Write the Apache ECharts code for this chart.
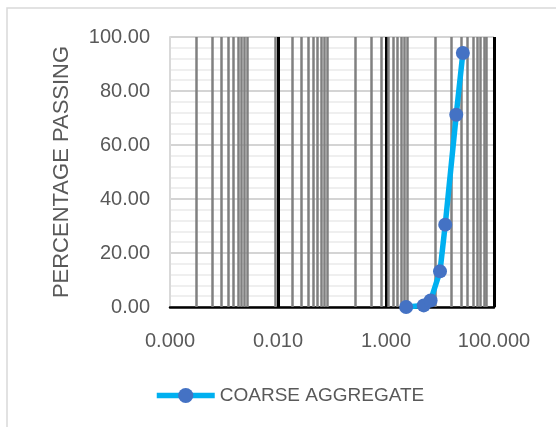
<!DOCTYPE html>
<html>
<head>
<meta charset="utf-8">
<script src="https://cdn.jsdelivr.net/npm/echarts@6/dist/echarts.min.js"></script>
<style>
  html, body { margin: 0; padding: 0; background: #ffffff; }
  #chart { width: 556px; height: 427px; }
</style>
</head>
<body>
<div id="chart"></div>
<script>
// Sieve size (mm) and percentage passing
const sieveSizes = [2.36, 5, 6.7, 10, 12.5, 20, 26.5];
const percentPassing = [0.0, 0.6, 2.4, 13.2, 30.5, 71.2, 94.1];
const seriesName = 'COARSE AGGREGATE';
const yTicks = [0, 20, 40, 60, 80, 100];
const xTickLabels = ['0.000', '0.010', '1.000', '100.000'];
// minor vertical gridline values (as drawn in the source chart)
const minorGridValues = [
  0.0003, 0.0006, 0.0009, 0.0012, 0.0015, 0.0018, 0.0021, 0.0024, 0.0027,
  0.009, 0.018, 0.027, 0.036, 0.045, 0.054, 0.063, 0.072, 0.081,
  0.27, 0.54, 0.81, 1.08, 1.35, 1.62, 1.89, 2.16, 2.43,
  8.1, 16.2, 24.3, 32.4, 40.5, 48.6, 56.7, 64.8, 72.9
];

const FONT = 'Liberation Sans';
const TXT = '#595959';

const chart = echarts.init(document.getElementById('chart'), null, { renderer: 'canvas' });

chart.setOption({
  animation: false,
  backgroundColor: '#ffffff',
  textStyle: { fontFamily: FONT },
  graphic: [{
    type: 'rect',
    silent: true,
    shape: { x: 7, y: 8, width: 600, height: 500 },
    style: { fill: 'none', stroke: '#d9d9d9', lineWidth: 1.5 },
    z: -10
  }],
  grid: { left: 170, right: 62, top: 37, bottom: 120, containLabel: false },
  legend: {
    data: [seriesName],
    left: 149,
    top: 381,
    itemWidth: 58,
    itemHeight: 19,
    itemStyle: { color: '#4472C4' },
    lineStyle: { color: '#00B0F0', width: 5.5 },
    textStyle: { fontFamily: FONT, fontSize: 19, color: TXT }
  },
  xAxis: {
    type: 'log',
    logBase: 100,
    min: 0.0001,
    max: 100,
    splitNumber: 3,
    axisLine: { show: true, onZero: false, lineStyle: { color: '#000000', width: 2.5 } },
    axisTick: { show: false },
    axisLabel: {
      margin: 24,
      fontFamily: FONT,
      fontSize: 20,
      color: TXT,
      formatter: function (v) {
        const s = Number(v).toFixed(3);
        return xTickLabels.indexOf(s) >= 0 ? s : '';
      }
    },
    splitLine: {
      show: true,
      showMinLine: false,
      lineStyle: { color: '#000000', width: 3 }
    }
  },
  yAxis: {
    type: 'value',
    min: yTicks[0],
    max: yTicks[yTicks.length - 1],
    interval: 20,
    name: 'PERCENTAGE PASSING',
    nameLocation: 'middle',
    nameRotate: 90,
    nameGap: 97,
    nameTextStyle: { fontFamily: FONT, fontSize: 22, color: TXT },
    axisLine: { show: true, lineStyle: { color: '#d9d9d9', width: 2 } },
    axisTick: { show: false },
    axisLabel: {
      margin: 20,
      fontFamily: FONT,
      fontSize: 20,
      color: TXT,
      formatter: function (v) { return Number(v).toFixed(2); }
    },
    splitLine: { show: true, lineStyle: { color: '#d4d4d4', width: 2 } },
    minorTick: { show: false, splitNumber: 5 },
    minorSplitLine: { show: true, lineStyle: { color: '#efefef', width: 2 } }
  },
  series: [{
    name: seriesName,
    type: 'line',
    data: sieveSizes.map((x, i) => [x, percentPassing[i]]),
    symbol: 'circle',
    symbolSize: 14,
    lineStyle: { color: '#00B0F0', width: 5.5 },
    itemStyle: { color: '#4472C4' },
    z: 3,
    markLine: {
      silent: true,
      z: 1,
      precision: 10,
      symbol: ['none', 'none'],
      label: { show: false },
      lineStyle: { color: '#808080', width: 2.5, type: 'solid' },
      emphasis: { disabled: true },
      data: minorGridValues.map(v => ({ xAxis: v }))
    }
  }]
});
</script>
</body>
</html>
